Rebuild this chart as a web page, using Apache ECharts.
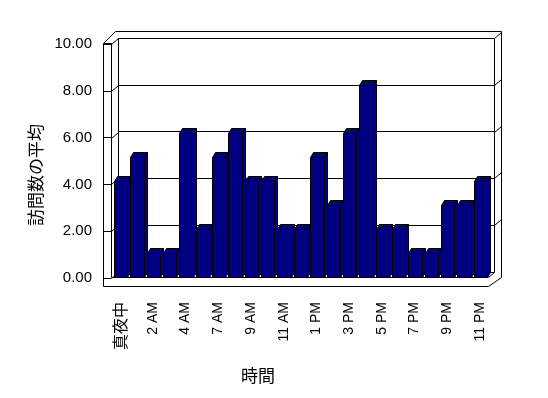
<!DOCTYPE html>
<html lang="ja">
<head>
<meta charset="UTF-8">
<script src="https://cdn.jsdelivr.net/npm/echarts@6/dist/echarts.min.js"></script>
<title>訪問数の平均</title>
<style>html,body{margin:0;padding:0;background:#fff;}</style>
</head>
<body>
<div id="chart" style="width:548px;height:398px;"></div>
<script type="text/javascript">
    // 時間ごとの訪問数の平均
    var hours = ['真夜中', '1 AM', '2 AM', '3 AM', '4 AM', '6 AM', '7 AM', '8 AM', '9 AM', '10 AM', '11 AM', '正午',
        '1 PM', '2 PM', '3 PM', '4 PM', '5 PM', '6 PM', '7 PM', '8 PM', '9 PM', '10 PM', '11 PM'];
    var visits = [4, 5, 1, 1, 6, 2, 5, 6, 4, 4, 2, 2, 5, 3, 6, 8, 2, 2, 1, 1, 3, 3, 4];
    var yTicks = [0, 2, 4, 6, 8, 10];

    var BAR_COLOR = '#000080';
    var DX = 3, DY = -5;   // bar depth
    var LATIN = 'Liberation Sans, Noto Sans CJK JP, sans-serif';
    var JP = 'Noto Sans CJK JP, sans-serif';

    var chart = echarts.init(document.getElementById('chart'));

    function line(points) {
        return {
            type: 'polyline', z: 0, silent: true,
            shape: {points: points},
            style: {stroke: '#000', lineWidth: 1, fill: null}
        };
    }

    // 3D風の棒
    function renderBar(params, api) {
        var i = api.value(0), v = api.value(1);
        var base = api.coord([i, 0]);
        var top = api.coord([i, v]);
        var bw = api.size([1, 0])[0];
        var x0 = Math.round(base[0] - bw / 2 + 2) + 0.5;
        var x1 = Math.round(base[0] + bw / 2 - 1) + 0.5;
        var y0 = Math.round(base[1]) + 0.5;
        var y1 = Math.round(top[1]) + 0.5;
        var st = {fill: BAR_COLOR, stroke: '#000', lineWidth: 1};
        return {
            type: 'group',
            children: [
                {type: 'polygon', shape: {points: [[x1, y1], [x1 + DX, y1 + DY], [x1 + DX, y0 + DY], [x1, y0]]}, style: st},
                {type: 'polygon', shape: {points: [[x0, y1], [x0 + DX, y1 + DY], [x1 + DX, y1 + DY], [x1, y1]]}, style: st},
                {type: 'rect', shape: {x: x0, y: y1, width: x1 - x0, height: y0 - y1}, style: st}
            ]
        };
    }

    // 側壁の目盛の斜線
    function renderWall(params, api) {
        var v = api.value(1);
        var l = api.coord([0, v]);
        var ly = Math.round(l[1]) + 0.5;
        var children = [line([[111.5, ly + 6], [118.5, ly]])];
        if (v > 0) {
            children.push(line([[494.5, ly], [501.5, ly - 6]]));
        }
        return {type: 'group', children: children};
    }

    chart.setOption({
        animation: false,
        backgroundColor: '#fff',
        textStyle: {fontFamily: LATIN, color: '#000'},
        grid: [
            {left: 112, top: 37, width: 376, height: 240},
            {left: 103, top: 44, width: 385, height: 234},
            {left: 118, top: 38, width: 376, height: 234}
        ],
        xAxis: [
            {
                gridIndex: 0, type: 'category', data: hours,
                axisLine: {lineStyle: {color: '#000', width: 1}},
                axisTick: {interval: 0, length: 9, lineStyle: {color: '#000'}},
                axisLabel: {
                    interval: 1, rotate: 90, margin: 25, fontSize: 14, color: '#000', fontFamily: LATIN,
                    formatter: function (v) {
                        return /[^\x00-\x7f]/.test(v) ? '{j|' + v + '}' : v;
                    },
                    rich: {j: {fontSize: 16, fontFamily: JP, color: '#000'}}
                },
                splitLine: {show: false}
            },
            {gridIndex: 1, type: 'value', min: 0, max: 1, show: false},
            {gridIndex: 2, type: 'value', min: 0, max: 1, show: false}
        ],
        yAxis: [
            {gridIndex: 0, type: 'value', min: 0, max: 10, show: false},
            {
                gridIndex: 1, type: 'value', min: 0, max: 10, interval: 2,
                axisLine: {show: false},
                axisTick: {show: true, inside: true, length: 8, lineStyle: {color: '#000'}},
                axisLabel: {
                    margin: 11, fontSize: 15, color: '#000',
                    formatter: function (v) { return v.toFixed(2); }
                },
                splitLine: {show: false}
            },
            {
                gridIndex: 2, type: 'value', min: 0, max: 10, interval: 2,
                axisLine: {show: false}, axisTick: {show: false}, axisLabel: {show: false},
                splitLine: {show: true, lineStyle: {color: '#000', width: 1}}
            }
        ],
        graphic: {
            elements: [
                // 外枠
                line([[103.5, 286.5], [103.5, 43.5], [115.5, 31.5], [501.5, 31.5], [501.5, 277.5], [488.5, 286.5], [103.5, 286.5]]),
                // 左壁
                line([[103.5, 43.5], [111.5, 43.5]]),
                line([[111.5, 43.5], [111.5, 277.5]]),
                // 奥の壁
                line([[118.5, 272.5], [118.5, 38.5]]),
                line([[494.5, 38.5], [494.5, 272.5], [488.5, 277.5]]),
                {
                    type: 'text', z: 5, x: 36, y: 175, rotation: Math.PI / 2,
                    style: {text: '訪問数の平均', fontSize: 17, fontFamily: JP, fill: '#000', align: 'center', verticalAlign: 'middle'}
                },
                {
                    type: 'text', z: 5, x: 258, y: 376,
                    style: {text: '時間', fontSize: 17, fontFamily: JP, fill: '#000', align: 'center', verticalAlign: 'middle'}
                }
            ]
        },
        series: [
            {
                type: 'custom', name: '壁', xAxisIndex: 2, yAxisIndex: 2, z: 1, silent: true,
                data: yTicks.map(function (v) { return [0, v]; }),
                renderItem: renderWall
            },
            {
                type: 'custom', name: '訪問数の平均', xAxisIndex: 0, yAxisIndex: 0, z: 3,
                data: visits.map(function (v, i) { return [i, v]; }),
                encode: {x: 0, y: 1},
                renderItem: renderBar
            }
        ]
    });
</script>
</body>
</html>
